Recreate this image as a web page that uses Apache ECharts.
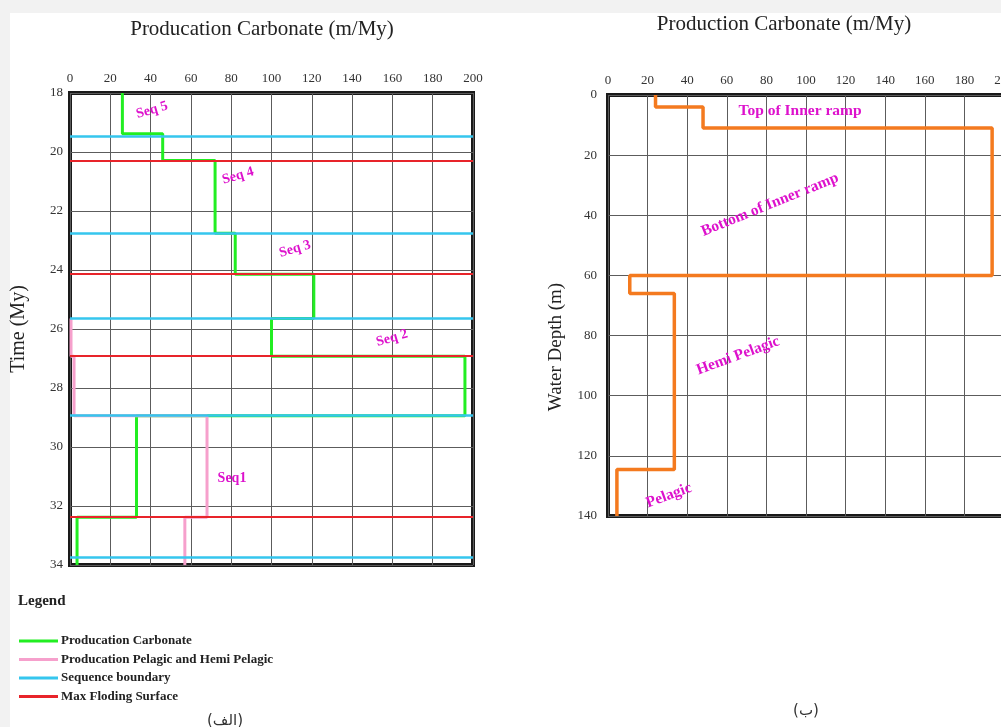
<!DOCTYPE html>
<html>
<head>
<meta charset="utf-8">
<style>
  html, body { margin: 0; padding: 0; background: #ffffff; }
  #chart { width: 1001px; height: 727px; }
</style>
<script src="https://cdn.jsdelivr.net/npm/echarts@6/dist/echarts.min.js"></script>
</head>
<body>
<div id="chart"></div>
<script>
// ---- Panel (a): production through time ----
// carbonate production (m/My) vs time (My), corner points of the stepped curve
const carbonateProduction = [
  [26, 18], [26, 19.38], [46, 19.38], [46, 20.29], [72, 20.29], [72, 22.75],
  [82, 22.75], [82, 24.14], [121, 24.14], [121, 25.64], [100, 25.64], [100, 26.92],
  [196, 26.92], [196, 28.94], [33, 28.94], [33, 32.38], [3.5, 32.38], [3.5, 34]
];
// pelagic and hemi-pelagic production (m/My) vs time (My)
const pelagicProduction = [
  [0.5, 25.64], [0.5, 26.92], [2, 26.92], [2, 28.94], [68, 28.94],
  [68, 32.38], [57, 32.38], [57, 34]
];
// surfaces (My)
const sequenceBoundaries = [19.45, 22.75, 25.64, 28.94, 33.73];
const maxFloodingSurfaces = [20.29, 24.14, 26.92, 32.38];
// sequence names placed at [production, time]
const sequenceNames = ['Seq 5', 'Seq 4', 'Seq 3', 'Seq 2', 'Seq1'];
const sequenceNamePoints = [[40.7, 18.58], [83.4, 20.81], [111.7, 23.29], [159.8, 26.31], [80.4, 31.05]];

// ---- Panel (b): production vs water depth ----
const depthProfile = [
  [24, 0], [24, 4], [48, 4], [48, 11], [194, 11], [194, 60], [11, 60],
  [11, 66], [33.5, 66], [33.5, 124.5], [4.5, 124.5], [4.5, 140]
];
const zoneNames = ['Top of Inner ramp', 'Bottom of Inner ramp', 'Hemi Pelagic', 'Pelagic'];
const zoneNamePoints = [[97, 5.3], [81.8, 36.5], [65.7, 86.7], [30.8, 133.2]];

const legendNames = [
  'Producation Carbonate',
  'Producation Pelagic and Hemi Pelagic',
  'Sequence boundary',
  'Max Floding Surface'
];

// ---- styling ----
const SERIF = '"Liberation Serif", "DejaVu Serif", serif';
const GREEN = '#22ee22', PINK = '#f6a0cc', CYAN = '#35c6ee', RED = '#e8242a', ORANGE = '#f47a1f';
const MAGENTA = '#dd11cc';
const GRID_LINE = { show: true, lineStyle: { color: '#5c5c5c', width: 1 } };
const sequenceNameAngles = [16, 16, 16, 16, 0];
const zoneNameAngles = [0, 22, 20, 20];

function axisLabel(margin) {
  return { fontFamily: SERIF, fontSize: 13, color: '#333', margin: margin };
}
function hLines(values, color, width) {
  return {
    silent: true, symbol: ['none', 'none'], label: { show: false },
    lineStyle: { color: color, width: width, type: 'solid' },
    data: values.map(v => ({ yAxis: v }))
  };
}
function textItems(names, points, angles) {
  return names.map((n, i) => ({
    name: n, value: points[i],
    label: { rotate: angles[i] }
  }));
}
function gridBox(extra) {
  return Object.assign({
    show: true, borderColor: '#1a1a1a', borderWidth: 4, backgroundColor: 'transparent',
    containLabel: false, outerBoundsMode: 'none'
  }, extra);
}

const chart = echarts.init(document.getElementById('chart'), null, { renderer: 'canvas' });

chart.setOption({
  animation: false,
  backgroundColor: '#ffffff',
  grid: [
    gridBox({ left: 70, top: 93, width: 403, height: 472 }),
    gridBox({ left: 608, top: 95, width: 396, height: 421 })
  ],
  xAxis: [
    { gridIndex: 0, type: 'value', position: 'top', min: 0, max: 200, interval: 20,
      axisLine: { show: false }, axisTick: { show: false }, axisLabel: axisLabel(8), splitLine: GRID_LINE },
    { gridIndex: 1, type: 'value', position: 'top', min: 0, max: 200, interval: 20,
      axisLine: { show: false }, axisTick: { show: false }, axisLabel: axisLabel(8), splitLine: GRID_LINE }
  ],
  yAxis: [
    { gridIndex: 0, type: 'value', inverse: true, min: 18, max: 34, interval: 2,
      name: 'Time (My)', nameLocation: 'middle', nameGap: 41,
      nameTextStyle: { fontFamily: SERIF, fontSize: 20, color: '#222' },
      axisLine: { show: false }, axisTick: { show: false }, axisLabel: axisLabel(7), splitLine: GRID_LINE },
    { gridIndex: 1, type: 'value', inverse: true, min: 0, max: 140, interval: 20,
      axisLine: { show: false }, axisTick: { show: false }, axisLabel: axisLabel(11), splitLine: GRID_LINE }
  ],
  legend: {
    orient: 'vertical', left: 19, top: 634, padding: 0,
    icon: 'rect', itemWidth: 39, itemHeight: 3, itemGap: 4.5,
    data: legendNames,
    textStyle: { fontFamily: SERIF, fontSize: 13, fontWeight: 'bold', color: '#222', lineHeight: 14, padding: [0, 0, 0, -2] }
  },
  series: [
    { name: legendNames[2], type: 'line', xAxisIndex: 0, yAxisIndex: 0, data: [], z: 2,
      itemStyle: { color: CYAN }, lineStyle: { color: CYAN, width: 2.5 },
      markLine: hLines(sequenceBoundaries, CYAN, 2.5) },
    { name: legendNames[3], type: 'line', xAxisIndex: 0, yAxisIndex: 0, data: [], z: 2,
      itemStyle: { color: RED }, lineStyle: { color: RED, width: 2 },
      markLine: hLines(maxFloodingSurfaces, RED, 2) },
    { name: legendNames[0], type: 'line', xAxisIndex: 0, yAxisIndex: 0, z: 3,
      data: carbonateProduction, showSymbol: false, symbol: 'none',
      itemStyle: { color: GREEN }, lineStyle: { color: GREEN, width: 3 } },
    { name: legendNames[1], type: 'line', xAxisIndex: 0, yAxisIndex: 0, z: 4,
      data: pelagicProduction, showSymbol: false, symbol: 'none',
      itemStyle: { color: PINK }, lineStyle: { color: PINK, width: 3 } },
    { name: 'sequence names', type: 'scatter', xAxisIndex: 0, yAxisIndex: 0, z: 5, silent: true,
      symbolSize: 0, itemStyle: { opacity: 1, color: MAGENTA },
      data: textItems(sequenceNames, sequenceNamePoints, sequenceNameAngles),
      label: { show: true, position: 'inside', formatter: '{b}', color: MAGENTA, opacity: 1,
        fontFamily: SERIF, fontWeight: 'bold', fontSize: 14 } },
    { name: 'depth profile', type: 'line', xAxisIndex: 1, yAxisIndex: 1, z: 3,
      data: depthProfile, showSymbol: false, symbol: 'none',
      itemStyle: { color: ORANGE }, lineStyle: { color: ORANGE, width: 3.5 } },
    { name: 'zone names', type: 'scatter', xAxisIndex: 1, yAxisIndex: 1, z: 5, silent: true,
      symbolSize: 0, itemStyle: { opacity: 1, color: MAGENTA },
      data: textItems(zoneNames, zoneNamePoints, zoneNameAngles),
      label: { show: true, position: 'inside', formatter: '{b}', color: MAGENTA, opacity: 1,
        fontFamily: SERIF, fontWeight: 'bold', fontSize: 15.5 } }
  ],
  graphic: [
    // page margins
    { type: 'rect', left: 0, top: 0, shape: { width: 1001, height: 13 }, style: { fill: '#f2f2f2' }, silent: true },
    { type: 'rect', left: 0, top: 0, shape: { width: 10, height: 727 }, style: { fill: '#f2f2f2' }, silent: true },
    // panel titles
    { type: 'text', x: 262, y: 29, style: { text: 'Producation Carbonate (m/My)', fontFamily: SERIF, fontSize: 21,
        fill: '#222', textAlign: 'center', textVerticalAlign: 'middle' } },
    { type: 'text', x: 784, y: 24, style: { text: 'Production Carbonate (m/My)', fontFamily: SERIF, fontSize: 21,
        fill: '#222', textAlign: 'center', textVerticalAlign: 'middle' } },
    // depth axis title
    { type: 'text', x: 556, y: 347, rotation: Math.PI / 2,
      style: { text: 'Water Depth (m)', fontFamily: SERIF, fontSize: 19, fill: '#222',
        textAlign: 'center', textVerticalAlign: 'middle' } },
    // legend heading
    { type: 'text', x: 18, y: 601, style: { text: 'Legend', fontFamily: SERIF, fontSize: 15, fontWeight: 'bold',
        fill: '#222', textAlign: 'left', textVerticalAlign: 'middle' } },
    // panel letters
    { type: 'text', x: 225, y: 721, style: { text: '(الف)', fontFamily: '"DejaVu Sans", sans-serif', fontSize: 15,
        fill: '#333', textAlign: 'center', textVerticalAlign: 'middle' } },
    { type: 'text', x: 806, y: 711, style: { text: '(ب)', fontFamily: '"DejaVu Sans", sans-serif', fontSize: 15,
        fill: '#333', textAlign: 'center', textVerticalAlign: 'middle' } }
  ]
});
</script>
</body>
</html>
